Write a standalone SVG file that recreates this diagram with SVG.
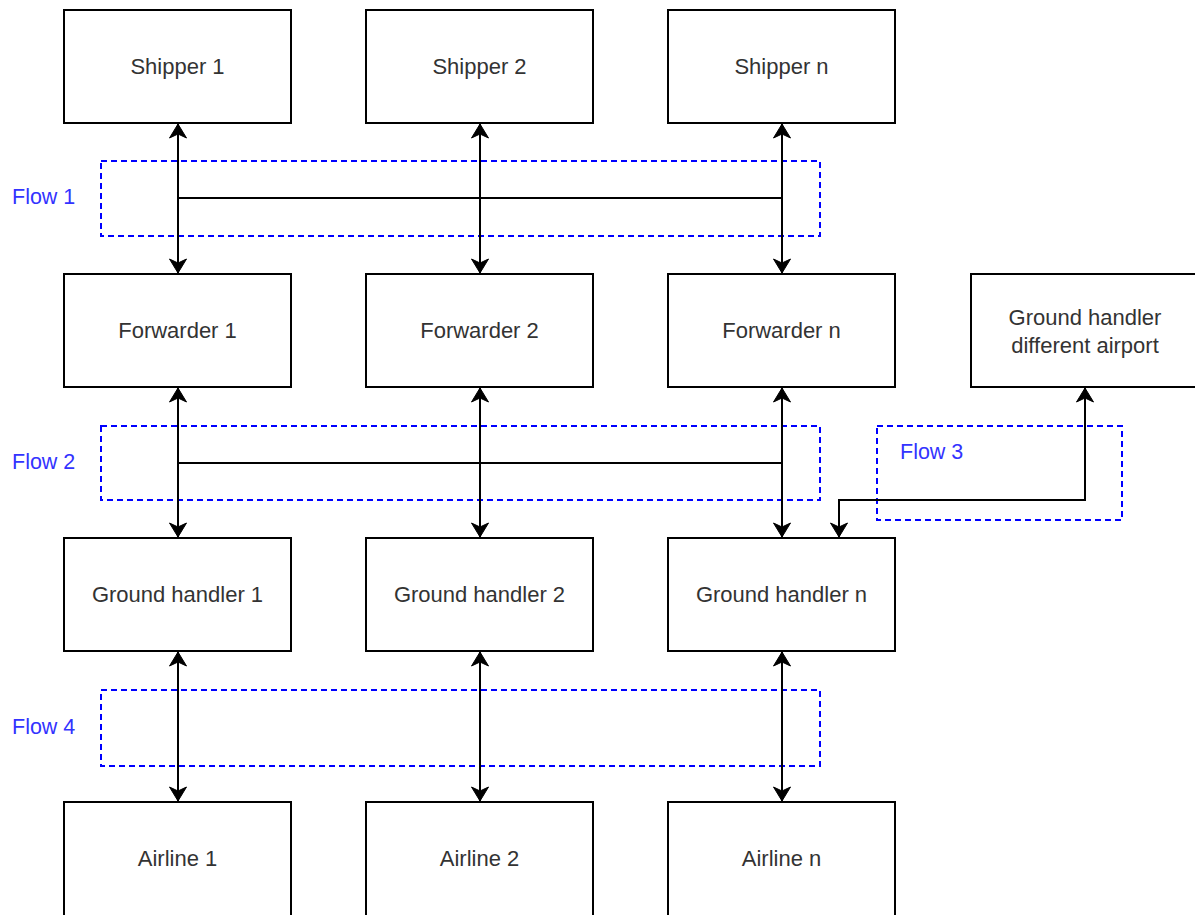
<svg xmlns="http://www.w3.org/2000/svg" width="1195" height="915" viewBox="0 0 1195 915">
  <style>
    .box { fill: #ffffff; stroke: #000000; stroke-width: 2; }
    .lbl { font-family: "Liberation Sans", Arial, sans-serif; font-size: 22px; fill: #333333; text-anchor: middle; dominant-baseline: central; }
    .flow { fill: none; stroke: #0000ff; stroke-width: 2; stroke-dasharray: 6 4; }
    .flowlbl { font-family: "Liberation Sans", Arial, sans-serif; font-size: 21.5px; fill: #3333ff; dominant-baseline: central; }
    .edge { fill: none; stroke: #000000; stroke-width: 2; }
  </style>
  <defs>
    <marker id="arrow" markerUnits="userSpaceOnUse" markerWidth="20" markerHeight="20" viewBox="-15 -10 16 20" refX="0" refY="0" orient="auto-start-reverse">
      <path d="M0,0 L-14,-8.5 L-10,0 L-14,8.5 Z" fill="#000000" stroke="#000000" stroke-width="1"/>
    </marker>
  </defs>
  <rect width="1195" height="915" fill="#ffffff"/>

  <!-- flow regions -->
  <g id="flow-regions">
    <rect class="flow" x="101" y="161" width="719" height="75"/>
    <rect class="flow" x="101" y="426" width="719" height="74"/>
    <rect class="flow" x="877" y="426" width="245" height="94"/>
    <rect class="flow" x="101" y="690" width="719" height="76"/>
    <text class="flowlbl" x="12" y="197">Flow 1</text>
    <text class="flowlbl" x="12" y="462">Flow 2</text>
    <text class="flowlbl" x="900" y="452">Flow 3</text>
    <text class="flowlbl" x="12" y="727">Flow 4</text>
  </g>

  <!-- connectors -->
  <g id="connectors">
    <path class="edge" d="M178,124 V273" marker-start="url(#arrow)" marker-end="url(#arrow)"/>
    <path class="edge" d="M480,124 V273" marker-start="url(#arrow)" marker-end="url(#arrow)"/>
    <path class="edge" d="M782,124 V273" marker-start="url(#arrow)" marker-end="url(#arrow)"/>
    <path class="edge" d="M178,198 H782"/>

    <path class="edge" d="M178,388 V537" marker-start="url(#arrow)" marker-end="url(#arrow)"/>
    <path class="edge" d="M480,388 V537" marker-start="url(#arrow)" marker-end="url(#arrow)"/>
    <path class="edge" d="M782,388 V537" marker-start="url(#arrow)" marker-end="url(#arrow)"/>
    <path class="edge" d="M178,463 H782"/>

    <path class="edge" d="M1085,388 V500 H839 V537" marker-start="url(#arrow)" marker-end="url(#arrow)"/>

    <path class="edge" d="M178,652 V801" marker-start="url(#arrow)" marker-end="url(#arrow)"/>
    <path class="edge" d="M480,652 V801" marker-start="url(#arrow)" marker-end="url(#arrow)"/>
    <path class="edge" d="M782,652 V801" marker-start="url(#arrow)" marker-end="url(#arrow)"/>
  </g>

  <!-- shippers -->
  <g id="shipper-1"><rect class="box" x="64" y="10" width="227" height="113"/><text class="lbl" x="177.5" y="66">Shipper 1</text></g>
  <g id="shipper-2"><rect class="box" x="366" y="10" width="227" height="113"/><text class="lbl" x="479.5" y="66">Shipper 2</text></g>
  <g id="shipper-n"><rect class="box" x="668" y="10" width="227" height="113"/><text class="lbl" x="781.5" y="66">Shipper n</text></g>

  <!-- forwarders -->
  <g id="forwarder-1"><rect class="box" x="64" y="274" width="227" height="113"/><text class="lbl" x="177.5" y="330">Forwarder 1</text></g>
  <g id="forwarder-2"><rect class="box" x="366" y="274" width="227" height="113"/><text class="lbl" x="479.5" y="330">Forwarder 2</text></g>
  <g id="forwarder-n"><rect class="box" x="668" y="274" width="227" height="113"/><text class="lbl" x="781.5" y="330">Forwarder n</text></g>
  <g id="ground-handler-other"><rect class="box" x="971" y="274" width="240" height="113"/><text class="lbl" x="1085" y="317">Ground handler</text><text class="lbl" x="1085" y="345">different airport</text></g>

  <!-- ground handlers -->
  <g id="ground-handler-1"><rect class="box" x="64" y="538" width="227" height="113"/><text class="lbl" x="177.5" y="594">Ground handler 1</text></g>
  <g id="ground-handler-2"><rect class="box" x="366" y="538" width="227" height="113"/><text class="lbl" x="479.5" y="594">Ground handler 2</text></g>
  <g id="ground-handler-n"><rect class="box" x="668" y="538" width="227" height="113"/><text class="lbl" x="781.5" y="594">Ground handler n</text></g>

  <!-- airlines -->
  <g id="airline-1"><rect class="box" x="64" y="802" width="227" height="130"/><text class="lbl" x="177.5" y="858">Airline 1</text></g>
  <g id="airline-2"><rect class="box" x="366" y="802" width="227" height="130"/><text class="lbl" x="479.5" y="858">Airline 2</text></g>
  <g id="airline-n"><rect class="box" x="668" y="802" width="227" height="130"/><text class="lbl" x="781.5" y="858">Airline n</text></g>
</svg>
